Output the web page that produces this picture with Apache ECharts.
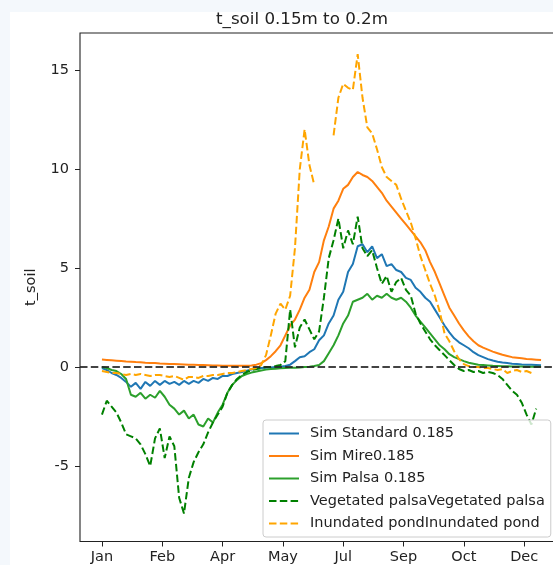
<!DOCTYPE html>
<html>
<head>
<meta charset="utf-8">
<script src="https://cdn.jsdelivr.net/npm/echarts@6/dist/echarts.min.js"></script>
<style>
  html, body { margin: 0; padding: 0; background: #f4f8fc; }
  #paper { position: absolute; left: 10px; top: 12px; width: 543px; height: 553px; background: #ffffff; }
  #chart { position: absolute; left: 0; top: 0; width: 553px; height: 565px; }
</style>
</head>
<body>
<div id="paper"></div>
<div id="chart"></div>
<script>
// Day of year for each sample (every 4 days)
const days = [
  0, 4, 8, 12, 16, 20, 24, 28, 32, 36,
  40, 44, 48, 52, 56, 60, 64, 68, 72, 76,
  80, 84, 88, 92, 96, 100, 104, 108, 112, 116,
  120, 124, 128, 132, 136, 140, 144, 148, 152, 156,
  160, 164, 168, 172, 176, 180, 184, 188, 192, 196,
  200, 204, 208, 212, 216, 220, 224, 228, 232, 236,
  240, 244, 248, 252, 256, 260, 264, 268, 272, 276,
  280, 284, 288, 292, 296, 300, 304, 308, 312, 316,
  320, 324, 328, 332, 336, 340, 344, 348, 352, 356,
  360, 364
];

// Soil temperature between 0.15 m and 0.2 m depth
const simStandard = [
  -0.05, -0.15, -0.3, -0.4, -0.55, -0.75, -1.0, -0.8, -1.1, -0.75,
  -0.95, -0.7, -0.9, -0.7, -0.85, -0.75, -0.9, -0.7, -0.85, -0.7,
  -0.8, -0.6, -0.7, -0.55, -0.6, -0.45, -0.45, -0.35, -0.3, -0.25,
  -0.18, -0.12, -0.08, -0.05, -0.03, -0.02, 0, 0.02, 0.05, 0.12,
  0.3, 0.5, 0.55, 0.75, 0.9, 1.35, 1.6, 2.2, 2.6, 3.4,
  3.8, 4.8, 5.2, 6.1, 6.2, 5.8, 6.1, 5.5, 5.7, 5.1,
  5.2, 4.9, 4.8, 4.5, 4.4, 4.0, 3.8, 3.5, 3.3, 2.9,
  2.5, 2.1, 1.75, 1.45, 1.25, 1.1, 0.95, 0.75, 0.6, 0.5,
  0.4, 0.33, 0.27, 0.23, 0.2, 0.17, 0.15, 0.13, 0.12, 0.11,
  0.1, 0.09
];

const simMire = [
  0.38, 0.36, 0.34, 0.32, 0.3, 0.28, 0.27, 0.25, 0.24, 0.22,
  0.21, 0.2, 0.18, 0.17, 0.16, 0.15, 0.14, 0.13, 0.12, 0.11,
  0.1, 0.1, 0.09, 0.08, 0.08, 0.07, 0.07, 0.06, 0.06, 0.06,
  0.07, 0.08, 0.12, 0.2, 0.35, 0.55, 0.8, 1.1, 1.6, 2.1,
  2.4, 2.9, 3.5, 3.9, 4.8, 5.3, 6.4, 7.1, 8.0, 8.4,
  9.0, 9.2, 9.6, 9.85, 9.7, 9.6, 9.4, 9.1, 8.8, 8.4,
  8.1, 7.8, 7.5, 7.2, 6.9, 6.6, 6.3, 5.9, 5.3, 4.8,
  4.2, 3.6, 3.0, 2.6, 2.2, 1.85, 1.55, 1.3, 1.1, 0.98,
  0.88, 0.78, 0.7, 0.62, 0.56, 0.5, 0.47, 0.44, 0.41, 0.39,
  0.37, 0.35
];

const simPalsa = [
  0, -0.05, -0.15, -0.2, -0.35, -0.6, -1.4, -1.5, -1.3, -1.6,
  -1.4, -1.55, -1.2, -1.5, -1.9, -2.1, -2.4, -2.2, -2.6, -2.4,
  -2.9, -3.0, -2.6, -2.8, -2.3, -1.9, -1.3, -0.9, -0.65, -0.45,
  -0.35, -0.28, -0.22, -0.17, -0.13, -0.1, -0.08, -0.06, -0.05, -0.04,
  -0.03, -0.02, 0, 0.02, 0.05, 0.1, 0.3, 0.7, 1.1, 1.6,
  2.2, 2.6, 3.3, 3.4, 3.5, 3.7, 3.4, 3.6, 3.5, 3.7,
  3.5, 3.4, 3.5, 3.3, 3.0, 2.6, 2.3, 2.0, 1.7, 1.4,
  1.1, 0.9, 0.65, 0.5, 0.4, 0.3, 0.22, 0.17, 0.12, 0.1,
  0.08, 0.06, 0.05, 0.04, 0.04, 0.03, 0.03, 0.03, 0.02, 0.02,
  0.02, 0.02
];

const vegetatedPalsa = [
  -2.4, -1.7, -2.0, -2.3, -2.8, -3.4, -3.5, -3.6, -3.9, -4.4,
  -5.0, -3.6, -3.1, -4.6, -3.5, -4.0, -6.6, -7.4, -5.6, -4.8,
  -4.3, -3.9, -3.3, -2.8, -2.4, -2.0, -1.3, -0.9, -0.6, -0.4,
  -0.25, -0.15, -0.1, -0.05, 0, 0.02, 0.05, 0.1, 0.3, 2.9,
  1.0, 2.0, 2.4, 1.9, 1.4, 1.8, 3.5, 5.5, 6.4, 7.5,
  6.0, 6.9, 6.2, 7.6, 6.0, 5.6, 5.9, 5.0, 4.2, 4.6,
  3.8, 4.3, 4.5, 3.9, 3.6, 2.7, 2.2, 1.8, 1.4, 1.1,
  0.85, 0.6, 0.35, 0.1, -0.1, -0.2, -0.15, -0.25, -0.2, -0.3,
  -0.25, -0.3, -0.4, -0.6, -0.9, -1.2, -1.4, -1.8, -2.4, -2.9,
  -2.1, null
];

const inundatedPond = [
  -0.2, -0.25, -0.3, -0.3, -0.35, -0.4, -0.35, -0.4, -0.35, -0.4,
  -0.45, -0.4, -0.4, -0.45, -0.5, -0.45, -0.55, -0.65, -0.5, -0.5,
  -0.55, -0.45, -0.45, -0.4, -0.4, -0.35, -0.3, -0.3, -0.25, -0.2,
  -0.15, -0.1, -0.05, 0.1, 0.6, 1.6, 2.7, 3.2, 2.9, 3.6,
  6.0, 10.0, 12.0, 10.2, 9.2, null, null, null, 11.7, 13.6,
  14.3, 14.1, 14.0, 15.8, 13.6, 12.1, 11.8, 11.0, 10.1, 9.6,
  9.4, 9.2, 8.5, 7.9, 7.3, 6.5, 5.6, 4.9, 4.2, 3.6,
  2.8, 1.7, 1.3, 0.8, 0.4, 0.15, 0.05, 0, 0, -0.05,
  -0.05, -0.1, -0.15, -0.1, -0.3, -0.2, -0.15, -0.25, -0.2, -0.3,
  null, null
];

// Axis ticks
const xTickDays = [0, 50, 100, 150, 200, 250, 300, 350];
const xTickLabels = ['Jan', 'Feb', 'Apr', 'May', 'Jul', 'Sep', 'Oct', 'Dec'];
const yTicks = [-5, 0, 5, 10, 15];

const FONT = 'DejaVu Sans';
const TEXT = '#222222';
const DASH = [7.5, 3.3];

function pairs(vals) {
  return days.map((d, i) => [d, vals[i]]);
}

function lineSeries(name, vals, color, dashed, extra) {
  return Object.assign({
    name: name,
    type: 'line',
    data: pairs(vals),
    symbol: 'none',
    showSymbol: false,
    connectNulls: false,
    animation: false,
    lineStyle: { color: color, width: 2, type: dashed ? DASH : 'solid' },
    itemStyle: { color: color },
    emphasis: { disabled: true }
  }, extra || {});
}

const chart = echarts.init(document.getElementById('chart'), null, { renderer: 'canvas' });

chart.setOption({
  backgroundColor: 'transparent',
  animation: false,
  title: {
    text: 't_soil 0.15m to 0.2m',
    left: 302,
    top: 11,
    padding: 0,
    textAlign: 'center',
    textStyle: { fontFamily: FONT, fontSize: 16.7, fontWeight: 'normal', color: TEXT }
  },
  grid: {
    left: 80,
    top: 33,
    width: 483,
    height: 508.5,
    show: true,
    borderColor: '#222',
    borderWidth: 1.1,
    backgroundColor: 'transparent',
    containLabel: false,
    outerBoundsMode: 'none'
  },
  xAxis: {
    type: 'value',
    min: -18.2,
    max: 382.2,
    splitLine: { show: false },
    axisLine: { show: false, onZero: false },
    axisTick: {
      show: true, length: 5, inside: false,
      customValues: xTickDays,
      lineStyle: { color: '#222', width: 1 }
    },
    axisLabel: {
      show: true,
      customValues: xTickDays,
      margin: 8,
      fontFamily: FONT, fontSize: 14.5, color: TEXT,
      formatter: function (v) {
        const i = xTickDays.indexOf(v);
        return i >= 0 ? xTickLabels[i] : '';
      }
    }
  },
  yAxis: {
    type: 'value',
    min: -8.81,
    max: 16.87,
    name: 't_soil',
    nameLocation: 'middle',
    nameGap: 41,
    nameRotate: 90,
    nameTextStyle: { fontFamily: FONT, fontSize: 14.5, color: TEXT },
    splitLine: { show: false },
    axisLine: { show: false, onZero: false },
    axisTick: {
      show: true, length: 5, inside: false,
      customValues: yTicks,
      lineStyle: { color: '#222', width: 1 }
    },
    axisLabel: {
      show: true,
      customValues: yTicks,
      margin: 11,
      fontFamily: FONT, fontSize: 14.5, color: TEXT
    }
  },
  legend: {
    show: true,
    orient: 'vertical',
    left: 263,
    top: 420,
    padding: [6, 6, 6, 5],
    itemWidth: 30,
    itemHeight: 14,
    itemGap: 7.5,
    backgroundColor: 'rgba(255,255,255,0.8)',
    borderColor: '#cccccc',
    borderWidth: 1,
    borderRadius: 3,
    selectedMode: false,
    itemStyle: { opacity: 0 },
    textStyle: { fontFamily: FONT, fontSize: 14.5, color: TEXT, padding: [0, 0, 0, 6] },
    data: [
      'Sim Standard 0.185',
      'Sim Mire0.185',
      'Sim Palsa 0.185',
      'Vegetated palsaVegetated palsa',
      'Inundated pondInundated pond'
    ]
  },
  series: [
    lineSeries('Sim Standard 0.185', simStandard, '#1f77b4', false),
    lineSeries('Sim Mire0.185', simMire, '#ff7f0e', false),
    lineSeries('Sim Palsa 0.185', simPalsa, '#2ca02c', false),
    lineSeries('Vegetated palsaVegetated palsa', vegetatedPalsa, '#008000', true),
    lineSeries('Inundated pondInundated pond', inundatedPond, '#ffa500', true, {
      markLine: {
        silent: true,
        symbol: ['none', 'none'],
        label: { show: false },
        animation: false,
        lineStyle: { color: '#222', width: 2, type: DASH, opacity: 0.85 },
        data: [{ yAxis: 0 }]
      }
    })
  ]
});
</script>
</body>
</html>
